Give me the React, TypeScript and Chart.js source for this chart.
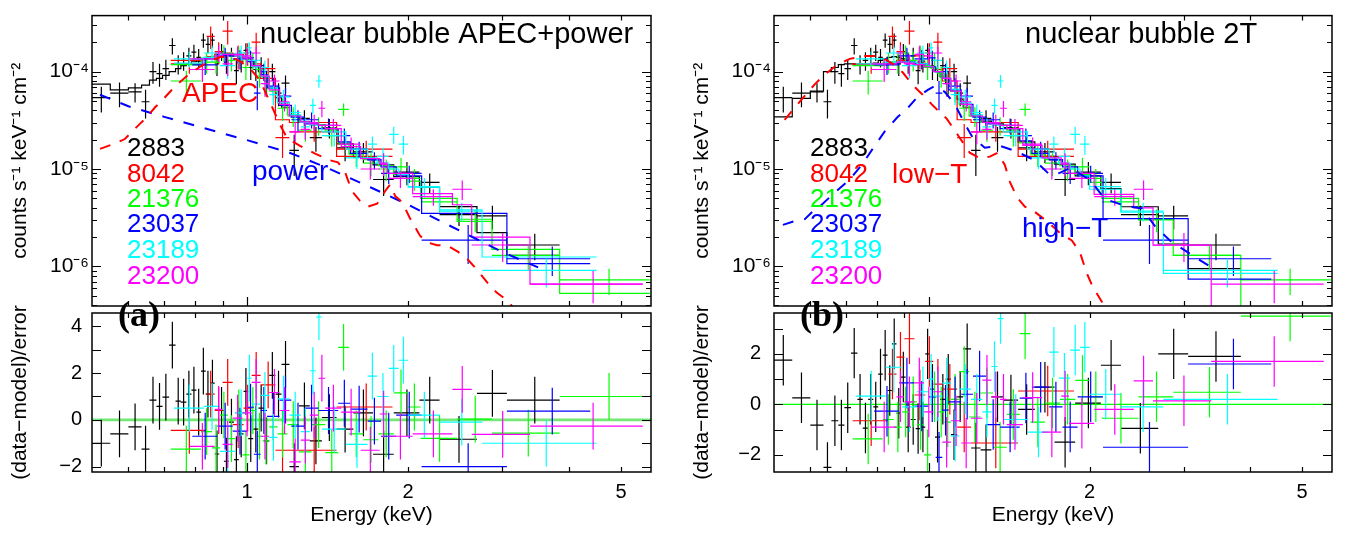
import React, { useEffect, useRef } from 'react';
import { Chart, registerables } from 'chart.js';

Chart.register(...registerables);

const FONT = '"Liberation Sans", Arial, Helvetica, sans-serif';
const SERIF = '"Liberation Serif", "Times New Roman", serif';

// ---------------- axis ranges and tick labels ----------------
const energyMin = 0.513;
const energyMax = 5.69;
const fluxMin = 3.93e-7;
const fluxMax = 3.75e-4;
const resMinA = -2.23;
const resMaxA = 4.57;
const resMinB = -2.68;
const resMaxB = 3.62;

const energyTickValues = [1, 2, 5];
const energyTickLabels = ['1', '2', '5'];
const energyMajorTicks = [1];
const energyMinorTicks = [0.6, 0.7, 0.8, 0.9, 2, 3, 4, 5];
const fluxTickValues = [1e-6, 1e-5, 1e-4];
const fluxTickLabels = ['10⁻⁶', '10⁻⁵', '10⁻⁴'];
const fluxMajorTicks = [1e-6, 1e-5, 1e-4];
const fluxMinorTicks = [4e-7, 5e-7, 6e-7, 7e-7, 8e-7, 9e-7, 2e-6, 3e-6, 4e-6, 5e-6, 6e-6, 7e-6, 8e-6, 9e-6,
  2e-5, 3e-5, 4e-5, 5e-5, 6e-5, 7e-5, 8e-5, 9e-5, 2e-4, 3e-4];
const resTickValuesA = [-2, 0, 2, 4];
const resTickValuesB = [-2, 0, 2];
const resTickMarksA = [-2, -1, 0, 1, 2, 3, 4];
const resTickMarksB = [-2, -1, 0, 1, 2, 3];

// ---------------- ObsID 2883 (black) ----------------
const edges2883 = [0.513, 0.555, 0.600, 0.635, 0.657, 0.677, 0.695, 0.715, 0.735, 0.752, 0.77, 0.787, 0.804, 0.82, 0.837, 0.853, 0.87, 0.887, 0.905, 0.925, 0.945, 0.965, 0.985, 1.005, 1.027, 1.05, 1.075, 1.1, 1.13, 1.16, 1.2, 1.25, 1.31, 1.38, 1.47, 1.58, 1.72, 1.88, 2.1, 2.29, 2.69, 3.06, 3.84];
const flux2883 = [5.4e-5, 6.0e-5, 6.2e-5, 4.9e-5, 1.0e-4, 9.5e-5, 1.07e-4, 1.85e-4, 1.2e-4, 1.3e-4, 1.45e-4, 1.58e-4, 1.4e-4, 2.1e-4, 1.9e-4, 2.1e-4, 1.2e-4, 1.6e-4, 1.25e-4, 1.45e-4, 1.02e-4, 1.28e-4, 1.65e-4, 1.1e-4, 1.05e-4, 1.15e-4, 8.0e-5, 1.0e-4, 6.0e-5, 7.6e-5, 1.55e-5, 3.3e-5, 2.1e-5, 2.65e-5, 1.65e-5, 1.5e-5, 7.8e-6, 9.3e-6, 7.3e-6, 3.4e-6, 3.3e-6, 1.66e-6];
const err2883 = [1.6e-5, 1.7e-5, 1.4e-5, 1.6e-5, 2.5e-5, 2.5e-5, 2.5e-5, 3.5e-5, 2.7e-5, 2.8e-5, 3e-5, 3e-5, 3e-5, 3.5e-5, 3.5e-5, 3.5e-5, 3e-5, 3.2e-5, 3e-5, 3e-5, 2.8e-5, 3e-5, 3e-5, 2.8e-5, 2.5e-5, 2.5e-5, 2.2e-5, 2e-5, 1.6e-5, 1.5e-5, 7e-6, 7e-6, 6e-6, 6e-6, 4.5e-6, 3.5e-6, 2.5e-6, 2.5e-6, 1.7e-6, 8e-7, 9e-7, 5e-7];
const modelA2883 = [7.43e-5, 6.49e-5, 6.8e-5, 7.27e-5, 8.15e-5, 8.53e-5, 9.13e-5, 1.0e-4, 1.07e-4, 1.15e-4, 1.2e-4, 1.26e-4, 1.28e-4, 1.35e-4, 1.38e-4, 1.41e-4, 1.44e-4, 1.47e-4, 1.51e-4, 1.51e-4, 1.47e-4, 1.44e-4, 1.38e-4, 1.28e-4, 1.15e-4, 1.0e-4, 8.53e-5, 6.8e-5, 5.4e-5, 4.3e-5, 3.58e-5, 3.06e-5, 2.85e-5, 2.6e-5, 1.81e-5, 1.32e-5, 1.1e-5, 8.34e-6, 6.5e-6, 4.11e-6, 2.22e-6, 1.3e-6];
const modelB2883 = [3.43e-5, 5.3e-5, 6.3e-5, 1.0e-4, 1.1e-4, 1.18e-4, 1.2e-4, 1.2e-4, 1.18e-4, 1.18e-4, 1.2e-4, 1.22e-4, 1.3e-4, 1.35e-4, 1.4e-4, 1.42e-4, 1.4e-4, 1.35e-4, 1.3e-4, 1.25e-4, 1.2e-4, 1.18e-4, 1.15e-4, 1.1e-4, 1.0e-4, 8.8e-5, 7.5e-5, 6.3e-5, 5.2e-5, 4.3e-5, 3.6e-5, 3.1e-5, 2.9e-5, 2.65e-5, 1.9e-5, 1.35e-5, 1.12e-5, 8.5e-6, 6.3e-6, 4.1e-6, 1.7e-6, 9.5e-7];
const resA2883 = [-1.0, -0.6, -0.3, -1.25, 0.84, 0.58, 0.97, 3.2, 0.8, 0.76, 1.1, 1.27, 0.33, 2.08, 1.1, 1.57, -1.46, 0.4, -1.77, -0.1, -1.7, -0.6, 1.22, -0.8, -0.4, 0.5, -0.9, 1.9, 1.1, 2.37, -2.0, 0.6, -0.9, 0.1, -0.4, 0.3, -1.47, 0.3, 0.84, -0.83, 1.13, 0.84];
const resB2883 = [1.75, 0.26, -0.82, -2.5, -0.65, -0.82, -0.13, 2.03, 0.2, -0.94, 0.2, -0.1, 1.2, 1.95, 0.55, 2.4, -0.35, 1.08, -0.9, -0.6, -0.96, -0.9, 2.0, 0.6, -1.3, 0.2, 1.0, -1.2, 0.3, 2.2, -1.73, -1.8, 0.3, 0.17, -0.2, 0.68, -1.5, 0.05, 1.55, -0.95, 2.0, 1.9];

// ---------------- ObsID 8042 (red) ----------------
const edges8042 = [0.72, 0.84, 0.87, 0.90, 0.94, 0.985, 1.02, 1.06, 1.13, 1.20, 1.47, 1.87];
const flux8042 = [1.2e-4, 2.3e-4, 1.6e-4, 2.6e-4, 1.45e-4, 1.55e-4, 2.0e-4, 1.07e-4, 2.1e-5, 2.4e-5, 1.6e-5];
const err8042 = [2.5e-5, 6e-5, 4e-5, 7e-5, 4e-5, 4e-5, 5e-5, 3e-5, 8e-6, 5e-6, 3.5e-6];
const modelA8042 = [1.3e-4, 1.42e-4, 1.5e-4, 1.55e-4, 1.5e-4, 1.4e-4, 1.2e-4, 8.5e-5, 3.2e-5, 3.0e-5, 1.35e-5];
const modelB8042 = [1.18e-4, 1.25e-4, 1.3e-4, 1.28e-4, 1.22e-4, 1.15e-4, 1.05e-4, 8e-5, 3.2e-5, 3.0e-5, 1.35e-5];
const resA8042 = [-0.45, 1.1, 0.4, 1.6, -0.2, 0.5, 1.9, 1.5, -1.3, -1.3, 0.55];
const resB8042 = [-0.65, 1.2, 1.87, 2.6, 0.37, 1.7, 0.8, 0.6, -0.9, -1.53, 0.53];

// ---------------- ObsID 21376 (green) ----------------
const edges21376 = [0.72, 0.82, 0.86, 0.89, 0.92, 0.95, 0.98, 1.01, 1.04, 1.07, 1.10, 1.14, 1.19, 1.25, 1.32, 1.40, 1.48, 1.55, 1.65, 1.76, 1.88, 2.0, 2.11, 2.47, 2.87, 3.84, 5.66];
const flux21376 = [8e-5, 1.25e-4, 1.25e-4, 1.55e-4, 1.3e-4, 1.5e-4, 1.1e-4, 1.3e-4, 9e-5, 7.5e-5, 6.3e-5, 4.2e-5, 3.5e-5, 2.5e-5, 2.8e-5, 2.2e-5, 4.1e-5, 1.4e-5, 1.15e-5, 1.0e-5, 1.05e-5, 8e-6, 4.6e-6, 3.05e-6, 1.3e-6, 7.3e-7];
const err21376 = [2.2e-5, 3e-5, 3e-5, 3e-5, 3e-5, 3e-5, 2.8e-5, 2.5e-5, 2.2e-5, 2e-5, 1.5e-5, 1.1e-5, 8e-6, 6e-6, 6e-6, 5e-6, 6e-6, 3.5e-6, 3e-6, 2.5e-6, 2.5e-6, 2e-6, 1e-6, 8e-7, 4e-7, 2.2e-7];
const modelA21376 = [1.18e-4, 1.37e-4, 1.44e-4, 1.5e-4, 1.5e-4, 1.45e-4, 1.38e-4, 1.25e-4, 1.05e-4, 8.7e-5, 6.7e-5, 4.8e-5, 3.6e-5, 3.05e-5, 2.85e-5, 2.5e-5, 1.85e-5, 1.45e-5, 1.25e-5, 1.08e-5, 8.8e-6, 7.5e-6, 5.0e-6, 2.9e-6, 1.5e-6, 5.3e-7];
const modelB21376 = [1.15e-4, 1.22e-4, 1.25e-4, 1.25e-4, 1.22e-4, 1.2e-4, 1.15e-4, 1.08e-4, 9.5e-5, 8e-5, 6.3e-5, 4.6e-5, 3.5e-5, 3.0e-5, 2.8e-5, 2.5e-5, 1.85e-5, 1.45e-5, 1.25e-5, 1.08e-5, 8.8e-6, 7.3e-6, 5.0e-6, 3.0e-6, 1.3e-6, 3.0e-7];
const resA21376 = [-1.25, -0.5, -1.2, 0.2, -0.8, 0.3, -1.5, 0.4, -0.7, -0.9, -0.3, -0.6, -0.2, -1.37, -0.2, -1.4, 3.1, -0.6, -0.85, -0.6, 1.15, 0.55, -0.79, 0.03, -0.57, 1.0];
const resB21376 = [-1.37, -0.6, -0.9, -0.3, 0.1, -0.8, -2.0, 0.3, -0.3, -0.7, 0.2, 1.3, -0.5, 0.45, -1.7, -0.4, 2.8, -0.7, 0.05, 0.2, 0.95, 0.3, -0.55, 0.3, 0.48, 3.5];

// ---------------- ObsID 23037 (blue) ----------------
const edges23037 = [0.79, 0.88, 0.94, 1.0, 1.03, 1.06, 1.09, 1.15, 1.21, 1.28, 1.36, 1.48, 1.56, 1.68, 1.78, 1.90, 2.12, 3.06, 4.38];
const flux23037 = [1.17e-4, 1.45e-4, 1.35e-4, 1.38e-4, 6e-5, 1.0e-4, 7.1e-5, 5.6e-5, 3.2e-5, 3.2e-5, 2.8e-5, 2.2e-5, 1.6e-5, 1.24e-5, 9e-6, 9e-6, 1.86e-6, 1.2e-6];
const err23037 = [2.5e-5, 3e-5, 3e-5, 2.5e-5, 2e-5, 2e-5, 1.5e-5, 1.2e-5, 8e-6, 6e-6, 5e-6, 4e-6, 3e-6, 2.5e-6, 2e-6, 1.8e-6, 8e-7, 4e-7];
const modelA23037 = [1.35e-4, 1.5e-4, 1.45e-4, 1.28e-4, 1.12e-4, 9.3e-5, 6.8e-5, 4.5e-5, 3.4e-5, 2.9e-5, 2.6e-5, 1.9e-5, 1.45e-5, 1.25e-5, 1.05e-5, 8.5e-6, 3.5e-6, 1.07e-6];
const modelB23037 = [1.2e-4, 1.25e-4, 1.2e-4, 1.12e-4, 1.0e-4, 8.5e-5, 6.5e-5, 4.6e-5, 3.4e-5, 2.9e-5, 2.6e-5, 1.95e-5, 1.45e-5, 1.25e-5, 1.05e-5, 8.5e-6, 3.1e-6, 7.4e-7];
const resA23037 = [-0.7, -0.27, -0.48, 0.54, -1.47, 0.4, 0.15, 0.84, -0.27, 0.5, 0.4, 0.71, 0.46, -0.05, -0.7, 0.2, -2.0, 0.37];
const resB23037 = [-0.27, 0.85, -0.07, 0.3, -2.1, -0.23, 0.1, 0.4, 1.12, -0.8, -0.9, 0.25, 0.68, -0.1, -0.9, 0.3, -1.7, 1.6];

// ---------------- ObsID 23189 (cyan) ----------------
const edges23189 = [0.73, 0.83, 0.89, 0.95, 1.0, 1.02, 1.06, 1.10, 1.14, 1.20, 1.26, 1.31, 1.345, 1.38, 1.53, 1.68, 1.75, 1.84, 1.92, 2.0, 2.29, 2.75, 4.5];
const flux23189 = [1.35e-4, 1.55e-4, 1.15e-4, 1.55e-4, 1.75e-4, 1.3e-4, 1.1e-4, 5.8e-5, 5.5e-5, 3.8e-5, 2.7e-5, 4.5e-5, 8.0e-5, 2.2e-5, 1.3e-5, 1.8e-5, 1.35e-5, 2.27e-5, 1.8e-5, 6.6e-6, 3.7e-6, 9.1e-7];
const err23189 = [2.5e-5, 3e-5, 3e-5, 3e-5, 2.5e-5, 2.5e-5, 2e-5, 1.3e-5, 1e-5, 8e-6, 6e-6, 8e-6, 1.2e-5, 5e-6, 3e-6, 3.5e-6, 3e-6, 4.5e-6, 4e-6, 1.5e-6, 8e-7, 3e-7];
const modelA23189 = [1.22e-4, 1.4e-4, 1.5e-4, 1.45e-4, 1.3e-4, 1.12e-4, 9e-5, 6.8e-5, 4.8e-5, 3.6e-5, 3.0e-5, 2.85e-5, 2.8e-5, 2.4e-5, 1.6e-5, 1.3e-5, 1.15e-5, 1.0e-5, 8.8e-6, 6.5e-6, 3.8e-6, 1.25e-6];
const modelB23189 = [1.2e-4, 1.25e-4, 1.25e-4, 1.2e-4, 1.12e-4, 1.0e-4, 8.5e-5, 6.6e-5, 4.8e-5, 3.6e-5, 3.0e-5, 2.85e-5, 2.8e-5, 2.4e-5, 1.6e-5, 1.3e-5, 1.15e-5, 1.0e-5, 8.5e-6, 6.2e-6, 3.6e-6, 8.5e-7];
const resA23189 = [0.5, 0.58, -1.35, 0.3, 1.78, 0.67, 1.05, -0.75, 0.9, 0.2, -0.5, 2.1, 4.4, -0.4, -1.05, 1.87, 1.0, 2.2, 2.55, 0.2, -0.1, -1.0];
const resB23189 = [0.33, 1.47, -0.1, 0.5, 1.0, 0.33, 0.84, -1.25, 0.6, 0.2, -0.3, 1.5, 3.4, -0.6, -1.1, 2.07, 1.04, 2.15, 2.26, 0.4, -0.1, 0.2];

// ---------------- ObsID 23200 (magenta) ----------------
const edges23200 = [0.78, 0.87, 0.90, 0.94, 0.98, 1.02, 1.06, 1.10, 1.15, 1.20, 1.26, 1.31, 1.36, 1.40, 1.50, 1.63, 1.77, 1.83, 2.04, 2.42, 2.63, 3.38, 5.49];
const flux23200 = [1.05e-4, 1.55e-4, 1.2e-4, 1.5e-4, 1.45e-4, 1.55e-4, 7.5e-5, 8e-5, 4.9e-5, 2.4e-5, 2.55e-5, 3.0e-5, 4.2e-5, 2.8e-5, 1.8e-5, 1.0e-5, 1.15e-5, 8e-6, 5.2e-6, 6.2e-6, 1.66e-6, 6.6e-7];
const err23200 = [2.7e-5, 3e-5, 3e-5, 3e-5, 2.8e-5, 2.5e-5, 2e-5, 1.3e-5, 1e-5, 6e-6, 5.5e-6, 6e-6, 8e-6, 4.5e-6, 3e-6, 2.2e-6, 3e-6, 1.6e-6, 1e-6, 1.4e-6, 5.5e-7, 2.4e-7];
const modelA23200 = [1.35e-4, 1.45e-4, 1.5e-4, 1.48e-4, 1.38e-4, 1.15e-4, 9e-5, 6.5e-5, 4.6e-5, 3.5e-5, 3.05e-5, 2.9e-5, 2.8e-5, 2.6e-5, 1.7e-5, 1.28e-5, 1.12e-5, 9e-6, 5.6e-6, 4.3e-6, 2.0e-6, 6.6e-7];
const modelB23200 = [1.2e-4, 1.25e-4, 1.22e-4, 1.18e-4, 1.12e-4, 1.0e-4, 8.5e-5, 6.3e-5, 4.6e-5, 3.5e-5, 3.0e-5, 2.9e-5, 2.8e-5, 2.6e-5, 1.75e-5, 1.3e-5, 1.12e-5, 9e-6, 5.5e-6, 4.0e-6, 1.65e-6, 3.0e-7];
const resA23200 = [-1.13, 0.45, -1.05, 0.07, 0.3, 1.6, -0.7, 1.17, 0.4, -1.8, -0.87, 0.2, 1.78, 0.5, 0.33, -1.3, 0.25, -0.7, -0.6, 1.3, -0.62, -0.27];
const resB23200 = [-0.9, 0.3, 0.1, 0.85, -0.3, 0.5, -1.5, -0.65, -1.53, -0.55, 0.96, 0.3, 0.2, -0.8, 0.27, -1.1, 0.33, -0.75, -0.2, 0.93, 0.14, 1.7];

// ---------------- model components ----------------
const apecEnergy = [0.531, 0.564, 0.591, 0.610, 0.631, 0.650, 0.673, 0.688, 0.718, 0.734, 0.756, 0.782, 0.817, 0.853, 0.890, 0.929, 0.970, 1.013, 1.057, 1.104, 1.152, 1.188, 1.256, 1.340, 1.429, 1.479, 1.524, 1.571, 1.626, 1.683, 1.750, 1.811, 1.851, 1.892, 1.948, 2.016, 2.105, 2.171, 2.265, 2.364, 2.481, 2.578, 2.667, 2.751, 2.844, 2.928, 3.06, 3.14];
const apecFlux = [1.61e-5, 1.81e-5, 2.03e-5, 2.43e-5, 2.92e-5, 3.43e-5, 4.3e-5, 4.82e-5, 6.2e-5, 7.1e-5, 8.15e-5, 9.55e-5, 1.12e-4, 1.28e-4, 1.41e-4, 1.41e-4, 1.28e-4, 1.07e-4, 8.15e-5, 4.82e-5, 2.85e-5, 2.07e-5, 1.73e-5, 1.44e-5, 1.23e-5, 1.17e-5, 9.34e-6, 5.92e-6, 4.71e-6, 4.11e-6, 4.4e-6, 5.92e-6, 6.95e-6, 5.28e-6, 4.6e-6, 3.13e-6, 2.07e-6, 1.77e-6, 1.65e-6, 1.65e-6, 1.41e-6, 1.2e-6, 9.78e-7, 7.96e-7, 6.34e-7, 5.41e-7, 4.5e-7, 3.84e-7];
const powerEnergy = [0.531, 0.60, 0.70, 0.80, 0.90, 1.0, 1.2, 1.4, 1.7, 2.0, 2.5, 3.0, 3.5];
const powerFlux = [5.78e-5, 4.4e-5, 3.43e-5, 2.79e-5, 2.32e-5, 1.98e-5, 1.47e-5, 1.05e-5, 6.5e-6, 4.3e-6, 2.32e-6, 1.41e-6, 9.8e-7];
const lowTEnergy = [0.537, 0.556, 0.586, 0.612, 0.639, 0.673, 0.711, 0.759, 0.81, 0.856, 0.894, 0.933, 0.974, 1.017, 1.081, 1.128, 1.193, 1.246, 1.301, 1.346, 1.388, 1.418, 1.462, 1.513, 1.559, 1.663, 1.759, 1.853, 1.918, 1.976, 2.028, 2.117];
const lowTFlux = [3.2e-5, 4.02e-5, 5.65e-5, 7.43e-5, 9.34e-5, 1.17e-4, 1.35e-4, 1.44e-4, 1.44e-4, 1.2e-4, 9.77e-5, 7.27e-5, 5.79e-5, 4.5e-5, 3.27e-5, 2.32e-5, 1.47e-5, 1.29e-5, 1.34e-5, 1.47e-5, 1.1e-5, 7.43e-6, 5.16e-6, 4.11e-6, 3.84e-6, 2.92e-6, 2.22e-6, 1.85e-6, 1.41e-6, 8.53e-7, 6.19e-7, 4.2e-7];
const highTEnergy = [0.533, 0.561, 0.586, 0.606, 0.633, 0.653, 0.681, 0.711, 0.749, 0.792, 0.827, 0.875, 0.909, 0.95, 0.996, 1.026, 1.071, 1.119, 1.168, 1.204, 1.273, 1.358, 1.449, 1.579, 1.685, 1.759, 1.837, 2.002, 2.136, 2.328, 2.506, 2.65, 2.828, 3.122, 3.433];
const highTFlux = [2.67e-6, 2.92e-6, 3.06e-6, 3.67e-6, 4.4e-6, 5.16e-6, 6.34e-6, 7.78e-6, 1.1e-5, 1.73e-5, 2.43e-5, 3.43e-5, 4.11e-5, 5.41e-5, 6.49e-5, 7.1e-5, 6.2e-5, 4.61e-5, 2.92e-5, 2.17e-5, 1.65e-5, 1.73e-5, 1.54e-5, 1.23e-5, 8.72e-6, 9.13e-6, 1.02e-5, 7.78e-6, 4.93e-6, 4.2e-6, 3.93e-6, 2.61e-6, 1.85e-6, 1.29e-6, 9.33e-7];

const obsIds = ['2883', '8042', '21376', '23037', '23189', '23200'];
const obsColors = ['#000000', '#ff0000', '#00ff00', '#0000ff', '#00ffff', '#ff00ff'];

const obsTable = [
  { edges: edges2883, flux: flux2883, err: err2883, modelA: modelA2883, modelB: modelB2883, resA: resA2883, resB: resB2883 },
  { edges: edges8042, flux: flux8042, err: err8042, modelA: modelA8042, modelB: modelB8042, resA: resA8042, resB: resB8042 },
  { edges: edges21376, flux: flux21376, err: err21376, modelA: modelA21376, modelB: modelB21376, resA: resA21376, resB: resB21376 },
  { edges: edges23037, flux: flux23037, err: err23037, modelA: modelA23037, modelB: modelB23037, resA: resA23037, resB: resB23037 },
  { edges: edges23189, flux: flux23189, err: err23189, modelA: modelA23189, modelB: modelB23189, resA: resA23189, resB: resB23189 },
  { edges: edges23200, flux: flux23200, err: err23200, modelA: modelA23200, modelB: modelB23200, resA: resA23200, resB: resB23200 },
].map((o, i) => ({ ...o, id: obsIds[i], color: obsColors[i] }));

// ---------------- layout (page pixels) ----------------
const PAGE_W = 1351;
const PAGE_H = 534;
const PANELS: any = {
  a: { left: 92, right: 651, tickPadLower: 10, legendX: 127 },
  b: { left: 774, right: 1332, tickPadLower: 13, legendX: 810 },
};
const UPPER_TOP = 5;
const UPPER_BOTTOM = 306;
const LOWER_TOP = 313;
const LOWER_BOTTOM = 472;
const Y_AXIS_W = 84;
const X_AXIS_H = PAGE_H - LOWER_BOTTOM;
const LEGEND_BASELINES = [156, 182, 207, 232, 258, 284];

// ---------------- helpers ----------------
function crossPoints(edges: number[], vals: number[], errs: number[] | number, floor: number) {
  const pts: any[] = [];
  vals.forEach((v, i) => {
    const lo = edges[i];
    const hi = edges[i + 1];
    const c = (lo + hi) / 2;
    const e = typeof errs === 'number' ? errs : errs[i];
    pts.push({ x: lo, y: v }, { x: hi, y: v }, { x: hi, y: null });
    pts.push({ x: c, y: Math.max(v - e, floor) }, { x: c, y: v + e }, { x: c, y: null });
  });
  return pts;
}

function stepPoints(edges: number[], vals: number[]) {
  const pts: any[] = [];
  vals.forEach((v, i) => {
    pts.push({ x: edges[i], y: v }, { x: edges[i + 1], y: v });
  });
  return pts;
}

function curvePoints(xs: number[], ys: number[]) {
  return xs.map((x, i) => ({ x, y: ys[i] }));
}

function lineDs(data: any[], color: string, width: number, dash?: number[]) {
  return {
    data,
    borderColor: color,
    backgroundColor: color,
    borderWidth: width,
    borderDash: dash || [],
    pointRadius: 0,
    pointHoverRadius: 0,
    fill: false,
    tension: 0,
    spanGaps: false,
  };
}

function framePlugin(xMajor: number[], xMinor: number[], yMajor: number[], yMinor: number[]) {
  return {
    id: 'frameTicks',
    afterDatasetsDraw(chart: any) {
      const { ctx, chartArea: a } = chart;
      const xs = chart.scales.x;
      const ys = chart.scales.y;
      ctx.save();
      ctx.strokeStyle = '#000';
      ctx.lineWidth = 1.2;
      ctx.beginPath();
      const vTick = (v: number, len: number) => {
        const p = Math.round(xs.getPixelForValue(v)) + 0.5;
        ctx.moveTo(p, a.bottom);
        ctx.lineTo(p, a.bottom - len);
        ctx.moveTo(p, a.top);
        ctx.lineTo(p, a.top + len);
      };
      const hTick = (v: number, len: number) => {
        const p = Math.round(ys.getPixelForValue(v)) + 0.5;
        ctx.moveTo(a.left, p);
        ctx.lineTo(a.left + len, p);
        ctx.moveTo(a.right, p);
        ctx.lineTo(a.right - len, p);
      };
      xMajor.forEach((v) => vTick(v, 9));
      xMinor.forEach((v) => vTick(v, 5));
      yMajor.forEach((v) => hTick(v, 9));
      yMinor.forEach((v) => hTick(v, 5));
      ctx.stroke();
      ctx.lineWidth = 1.5;
      ctx.strokeRect(a.left, a.top, a.right - a.left, a.bottom - a.top);
      ctx.restore();
    },
  };
}

function notesPlugin(notes: any[]) {
  return {
    id: 'notes',
    afterDraw(chart: any) {
      const { ctx } = chart;
      ctx.save();
      ctx.textBaseline = 'alphabetic';
      ctx.textAlign = 'left';
      notes.forEach((n) => {
        ctx.font = n.font;
        ctx.fillStyle = n.color;
        ctx.fillText(n.text, n.x, n.y);
      });
      ctx.restore();
    },
  };
}

const tickFont = { family: FONT, size: 20 };

function upperConfig(panel: 'a' | 'b') {
  const P = PANELS[panel];
  const floor = fluxMin * 0.5;
  const datasets: any[] = [];
  if (panel === 'a') {
    datasets.push(lineDs(curvePoints(apecEnergy, apecFlux), '#ff0000', 2, [11, 10]));
    datasets.push(lineDs(curvePoints(powerEnergy, powerFlux), '#0000ff', 2, [11, 11]));
  } else {
    datasets.push(lineDs(curvePoints(lowTEnergy, lowTFlux), '#ff0000', 2, [11, 10]));
    datasets.push(lineDs(curvePoints(highTEnergy, highTFlux), '#0000ff', 2, [11, 11]));
  }
  [...obsTable].reverse().forEach((o) => {
    datasets.push(lineDs(crossPoints(o.edges, o.flux, o.err, floor), o.color, 1.2));
    datasets.push(lineDs(stepPoints(o.edges, panel === 'a' ? o.modelA : o.modelB), o.color, 1.2));
  });

  const notes: any[] = [];
  if (panel === 'a') {
    notes.push({ text: 'nuclear bubble APEC+power', x: 260, y: 43, color: '#000', font: `29px ${FONT}` });
    notes.push({ text: 'APEC', x: 182, y: 102, color: '#ff0000', font: `28px ${FONT}` });
    notes.push({ text: 'power', x: 252, y: 180, color: '#0000ff', font: `28px ${FONT}` });
  } else {
    notes.push({ text: 'nuclear bubble 2T', x: 1025, y: 43, color: '#000', font: `29px ${FONT}` });
    notes.push({ text: 'low−T', x: 892, y: 183, color: '#ff0000', font: `28px ${FONT}` });
    notes.push({ text: 'high−T', x: 1022, y: 237, color: '#0000ff', font: `28px ${FONT}` });
  }
  obsTable.forEach((o, i) => {
    notes.push({ text: o.id, x: P.legendX, y: LEGEND_BASELINES[i], color: o.color, font: `26px ${FONT}` });
  });

  return {
    type: 'line',
    data: { datasets },
    options: {
      responsive: false,
      animation: false,
      devicePixelRatio: 1,
      events: [],
      layout: {
        padding: { left: P.left - Y_AXIS_W, right: PAGE_W - P.right, top: UPPER_TOP, bottom: PAGE_H - UPPER_BOTTOM },
      },
      plugins: { legend: { display: false }, tooltip: { enabled: false } },
      scales: {
        x: {
          type: 'logarithmic',
          min: energyMin,
          max: energyMax,
          position: 'bottom',
          grid: { display: false, drawTicks: false },
          border: { display: false },
          ticks: { display: false },
          afterBuildTicks: (s: any) => { s.ticks = energyTickValues.map((v) => ({ value: v })); },
          afterFit: (s: any) => { s.height = 0; },
        },
        y: {
          type: 'logarithmic',
          min: fluxMin,
          max: fluxMax,
          position: 'left',
          grid: { display: false, drawTicks: false },
          border: { display: false },
          ticks: {
            font: { family: FONT, size: 21 },
            color: '#000',
            padding: 3,
            autoSkip: false,
            callback: (_v: any, i: number) => fluxTickLabels[i],
          },
          title: {
            display: true,
            text: 'counts s⁻¹ keV⁻¹ cm⁻²',
            font: { family: FONT, size: 21 },
            color: '#000',
            padding: { top: 0, bottom: 0 },
          },
          afterBuildTicks: (s: any) => { s.ticks = fluxTickValues.map((v) => ({ value: v })); },
          afterFit: (s: any) => { s.width = Y_AXIS_W; },
        },
      },
    },
    plugins: [
      framePlugin(energyMajorTicks, energyMinorTicks, fluxMajorTicks, fluxMinorTicks),
      notesPlugin(notes),
    ],
  };
}

function lowerConfig(panel: 'a' | 'b') {
  const P = PANELS[panel];
  const yMin = panel === 'a' ? resMinA : resMinB;
  const yMax = panel === 'a' ? resMaxA : resMaxB;
  const labelVals = panel === 'a' ? resTickValuesA : resTickValuesB;
  const markVals = panel === 'a' ? resTickMarksA : resTickMarksB;
  const datasets: any[] = [];
  [...obsTable].reverse().forEach((o) => {
    datasets.push(lineDs(crossPoints(o.edges, panel === 'a' ? o.resA : o.resB, 1, -100), o.color, 1.2));
  });
  datasets.push(
    lineDs(
      [{ x: energyMin, y: 0 }, { x: energyMax, y: 0 }],
      panel === 'a' ? '#74e874' : '#00ff00',
      panel === 'a' ? 2.6 : 1.4,
    ),
  );
  const notes = [
    { text: panel === 'a' ? '(a)' : '(b)', x: panel === 'a' ? 118 : 800, y: 326, color: '#000', font: `bold 36px ${SERIF}` },
  ];

  return {
    type: 'line',
    data: { datasets },
    options: {
      responsive: false,
      animation: false,
      devicePixelRatio: 1,
      events: [],
      layout: {
        padding: { left: P.left - Y_AXIS_W, right: PAGE_W - P.right, top: LOWER_TOP, bottom: 0 },
      },
      plugins: { legend: { display: false }, tooltip: { enabled: false } },
      scales: {
        x: {
          type: 'logarithmic',
          min: energyMin,
          max: energyMax,
          position: 'bottom',
          grid: { display: false, drawTicks: false },
          border: { display: false },
          ticks: {
            display: true,
            font: tickFont,
            color: '#000',
            padding: 8,
            autoSkip: false,
            maxRotation: 0,
            callback: (_v: any, i: number) => energyTickLabels[i],
          },
          title: {
            display: true,
            text: 'Energy (keV)',
            font: { family: FONT, size: 21 },
            color: '#000',
            padding: { top: 0, bottom: 6 },
          },
          afterBuildTicks: (s: any) => { s.ticks = energyTickValues.map((v) => ({ value: v })); },
          afterFit: (s: any) => { s.height = X_AXIS_H; },
        },
        y: {
          type: 'linear',
          min: yMin,
          max: yMax,
          position: 'left',
          grid: { display: false, drawTicks: false },
          border: { display: false },
          ticks: {
            font: tickFont,
            color: '#000',
            padding: P.tickPadLower,
            autoSkip: false,
            callback: (v: any) => (v < 0 ? '−' + Math.abs(v) : String(v)),
          },
          title: {
            display: true,
            text: '(data−model)/error',
            font: { family: FONT, size: 21 },
            color: '#000',
            padding: { top: 0, bottom: 0 },
          },
          afterBuildTicks: (s: any) => { s.ticks = labelVals.map((v) => ({ value: v })); },
          afterFit: (s: any) => { s.width = Y_AXIS_W; },
        },
      },
    },
    plugins: [framePlugin(energyMajorTicks, energyMinorTicks, markVals, []), notesPlugin(notes)],
  };
}

export default function App() {
  const refA = useRef<HTMLCanvasElement>(null);
  const refB = useRef<HTMLCanvasElement>(null);
  const refC = useRef<HTMLCanvasElement>(null);
  const refD = useRef<HTMLCanvasElement>(null);

  useEffect(() => {
    const charts: Chart[] = [];
    const make = (el: HTMLCanvasElement | null, cfg: any) => {
      if (el) charts.push(new Chart(el, cfg));
    };
    make(refA.current, upperConfig('a'));
    make(refB.current, upperConfig('b'));
    make(refC.current, lowerConfig('a'));
    make(refD.current, lowerConfig('b'));
    return () => charts.forEach((c) => c.destroy());
  }, []);

  const cs: any = { position: 'absolute', left: 0, top: 0, width: PAGE_W, height: PAGE_H };
  return (
    <div style={{ position: 'absolute', left: 0, top: 0, width: PAGE_W, height: PAGE_H, background: '#fff', overflow: 'hidden' }}>
      <canvas ref={refA} width={PAGE_W} height={PAGE_H} style={cs} />
      <canvas ref={refB} width={PAGE_W} height={PAGE_H} style={cs} />
      <canvas ref={refC} width={PAGE_W} height={PAGE_H} style={cs} />
      <canvas ref={refD} width={PAGE_W} height={PAGE_H} style={cs} />
    </div>
  );
}
